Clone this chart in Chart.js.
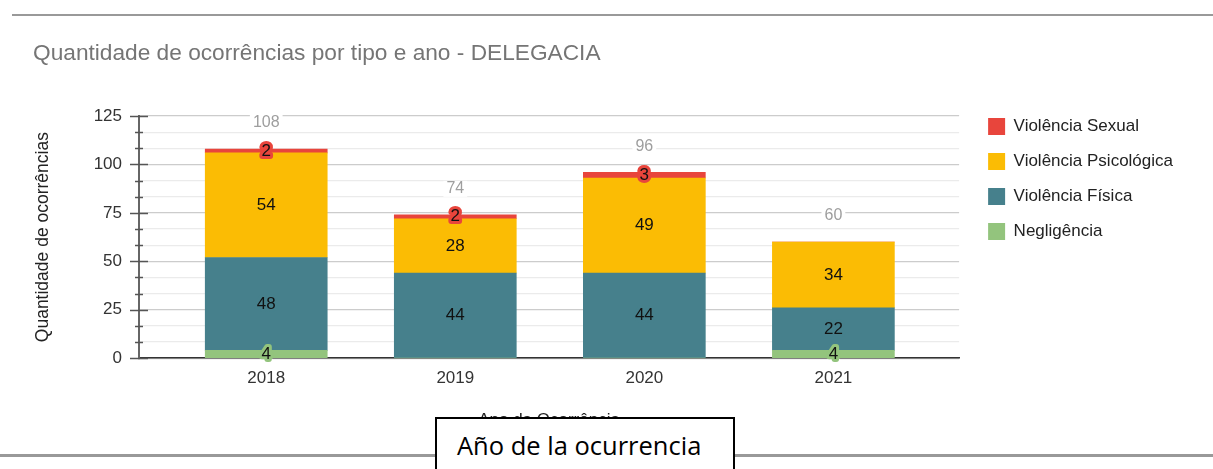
<!DOCTYPE html>
<html>
<head>
<meta charset="utf-8">
<script src="https://cdn.jsdelivr.net/npm/chart.js@4.4.1/dist/chart.umd.min.js"></script>
<style>
  html, body { margin: 0; padding: 0; background: #fff; }
  #wrap { position: relative; width: 1213px; height: 469px; overflow: hidden; }
  #chart { position: absolute; left: 0; top: 0; }
  .rule { position: absolute; background: #999; }
  #caption {
    position: absolute; left: 435px; top: 417px; width: 300px; height: 70px;
    border: 2px solid #000; background: #fff; box-sizing: border-box;
    font-family: 'Open Sans', sans-serif; font-size: 25.5px; color: #000;
    padding: 9px 0 0 20px; white-space: nowrap;
  }
</style>
</head>
<body>
<div id="wrap">
  <canvas id="chart" width="1213" height="469"></canvas>
  <div class="rule" style="left:12px; top:14px; width:1201px; height:2px;"></div>
  <div class="rule" style="left:0; top:454px; width:1213px; height:3px;"></div>
  <div id="caption">Año de la ocurrencia</div>
</div>
<script>
var years = [2018, 2019, 2020, 2021];
var negligencia = [4, 0, 0, 4];
var fisica = [48, 44, 44, 22];
var psicologica = [54, 28, 49, 34];
var sexual = [2, 2, 3, 0];
var yMajorTicks = [0, 25, 50, 75, 100, 125];
var minorPerMajor = 3;

var FONT = "'Liberation Sans', Arial, sans-serif";

function series(label, values, color) {
    return {
        label: label,
        data: years.map(function (y, i) { return { x: y, y: values[i] }; }),
        backgroundColor: color,
        borderWidth: 0,
        barThickness: 122
    };
}

// value labels inside the segments + totals above the bars
var barLabels = {
    id: 'barLabels',
    afterLayout: function (chart) {
        // push the legend a bit away from the plot
        chart.legend.left += 11;
        chart.legend.right += 11;
    },
    afterDatasetsDraw: function (chart) {
        var ctx = chart.ctx;
        ctx.save();
        ctx.textAlign = 'center';
        ctx.textBaseline = 'middle';
        ctx.lineJoin = 'round';
        ctx.font = '17px ' + FONT;
        chart.data.datasets.forEach(function (ds, di) {
            var meta = chart.getDatasetMeta(di);
            meta.data.forEach(function (bar, i) {
                var v = ds.data[i].y;
                if (!v) return;
                var y = (bar.y + bar.base) / 2;
                ctx.strokeStyle = ds.backgroundColor;
                ctx.lineWidth = 6;
                ctx.strokeText(String(v), bar.x, y);
                ctx.fillStyle = '#111';
                ctx.fillText(String(v), bar.x, y);
            });
        });
        ctx.font = '16px ' + FONT;
        var yScale = chart.scales.y;
        var first = chart.getDatasetMeta(0);
        years.forEach(function (yr, i) {
            var total = chart.data.datasets.reduce(function (s, ds) { return s + ds.data[i].y; }, 0);
            var x = first.data[i].x;
            var y = yScale.getPixelForValue(total) - 26;
            var w = ctx.measureText(String(total)).width + 6;
            ctx.fillStyle = '#fff';
            ctx.fillRect(x - w / 2, y - 8, w, 16);
            ctx.fillStyle = '#9e9e9e';
            ctx.fillText(String(total), x, y);
        });
        ctx.restore();
    },
    afterDraw: function (chart) {
        // tick marks crossing the y axis line
        var ctx = chart.ctx;
        var s = chart.scales.y;
        var x = chart.chartArea.left;
        ctx.save();
        ctx.strokeStyle = '#555';
        ctx.lineWidth = 1.5;
        s.ticks.forEach(function (t, i) {
            var len = i % minorPerMajor === 0 ? 9 : 4;
            var py = Math.round(s.getPixelForValue(t.value)) + 0.5;
            ctx.beginPath();
            ctx.moveTo(x - len, py);
            ctx.lineTo(x + len, py);
            ctx.stroke();
        });
        ctx.restore();
    }
};

new Chart(document.getElementById('chart'), {
    type: 'bar',
    data: {
        datasets: [
            series('Negligência', negligencia, '#93c47d'),
            series('Violência Física', fisica, '#46808c'),
            series('Violência Psicológica', psicologica, '#fbbc04'),
            series('Violência Sexual', sexual, '#e8453c')
        ]
    },
    options: {
        responsive: false,
        animation: false,
        layout: { padding: { left: 33, right: 41, top: 0, bottom: 38 } },
        plugins: {
            title: {
                display: true,
                text: 'Quantidade de ocorrências por tipo e ano - DELEGACIA',
                align: 'start',
                color: '#757575',
                font: { family: FONT, size: 22.7, weight: 'normal' },
                padding: { top: 40.5, bottom: 48.3 }
            },
            legend: {
                position: 'right',
                align: 'start',
                reverse: true,
                title: { display: true, text: '', font: { size: 10 }, padding: { top: 88, bottom: 0 } },
                labels: {
                    boxWidth: 17,
                    boxHeight: 17,
                    padding: 18,
                    color: '#222',
                    font: { family: FONT, size: 17 }
                }
            },
            tooltip: { enabled: false }
        },
        scales: {
            x: {
                type: 'linear',
                stacked: true,
                offset: false,
                min: 2017.327,
                max: 2021.665,
                afterBuildTicks: function (s) {
                    s.ticks = years.map(function (v) { return { value: v }; });
                },
                ticks: {
                    padding: 10,
                    color: '#333',
                    font: { family: FONT, size: 17 },
                    callback: function (v) { return String(v); }
                },
                grid: { display: false, drawTicks: false },
                border: { display: true, color: '#333', width: 1.5 },
                title: {
                    display: true,
                    text: 'Ano da Ocorrência',
                    color: '#222',
                    font: { family: FONT, size: 17 },
                    padding: { top: 12, bottom: 0 }
                }
            },
            y: {
                stacked: true,
                min: 0,
                max: yMajorTicks[yMajorTicks.length - 1],
                afterBuildTicks: function (s) {
                    var step = (yMajorTicks[1] - yMajorTicks[0]) / minorPerMajor;
                    var out = [];
                    for (var i = 0; i <= (yMajorTicks.length - 1) * minorPerMajor; i++) {
                        out.push({ value: i * step });
                    }
                    s.ticks = out;
                },
                afterFit: function (s) { s.width = 106; },
                ticks: {
                    padding: 17,
                    color: '#333',
                    font: { family: FONT, size: 17 },
                    autoSkip: false,
                    callback: function (v, i) {
                        return i % minorPerMajor === 0 ? String(Math.round(v)) : '';
                    }
                },
                grid: {
                    drawTicks: false,
                    color: function (c) { return c.index % minorPerMajor === 0 ? '#cccccc' : '#ebebeb'; },
                    lineWidth: 1.3
                },
                border: { display: true, color: '#666', width: 2 },
                title: {
                    display: true,
                    text: 'Quantidade de ocorrências',
                    color: '#222',
                    font: { family: FONT, size: 17.5 },
                    padding: { top: 0, bottom: 0 }
                }
            }
        }
    },
    plugins: [barLabels]
});
</script>
</body>
</html>
